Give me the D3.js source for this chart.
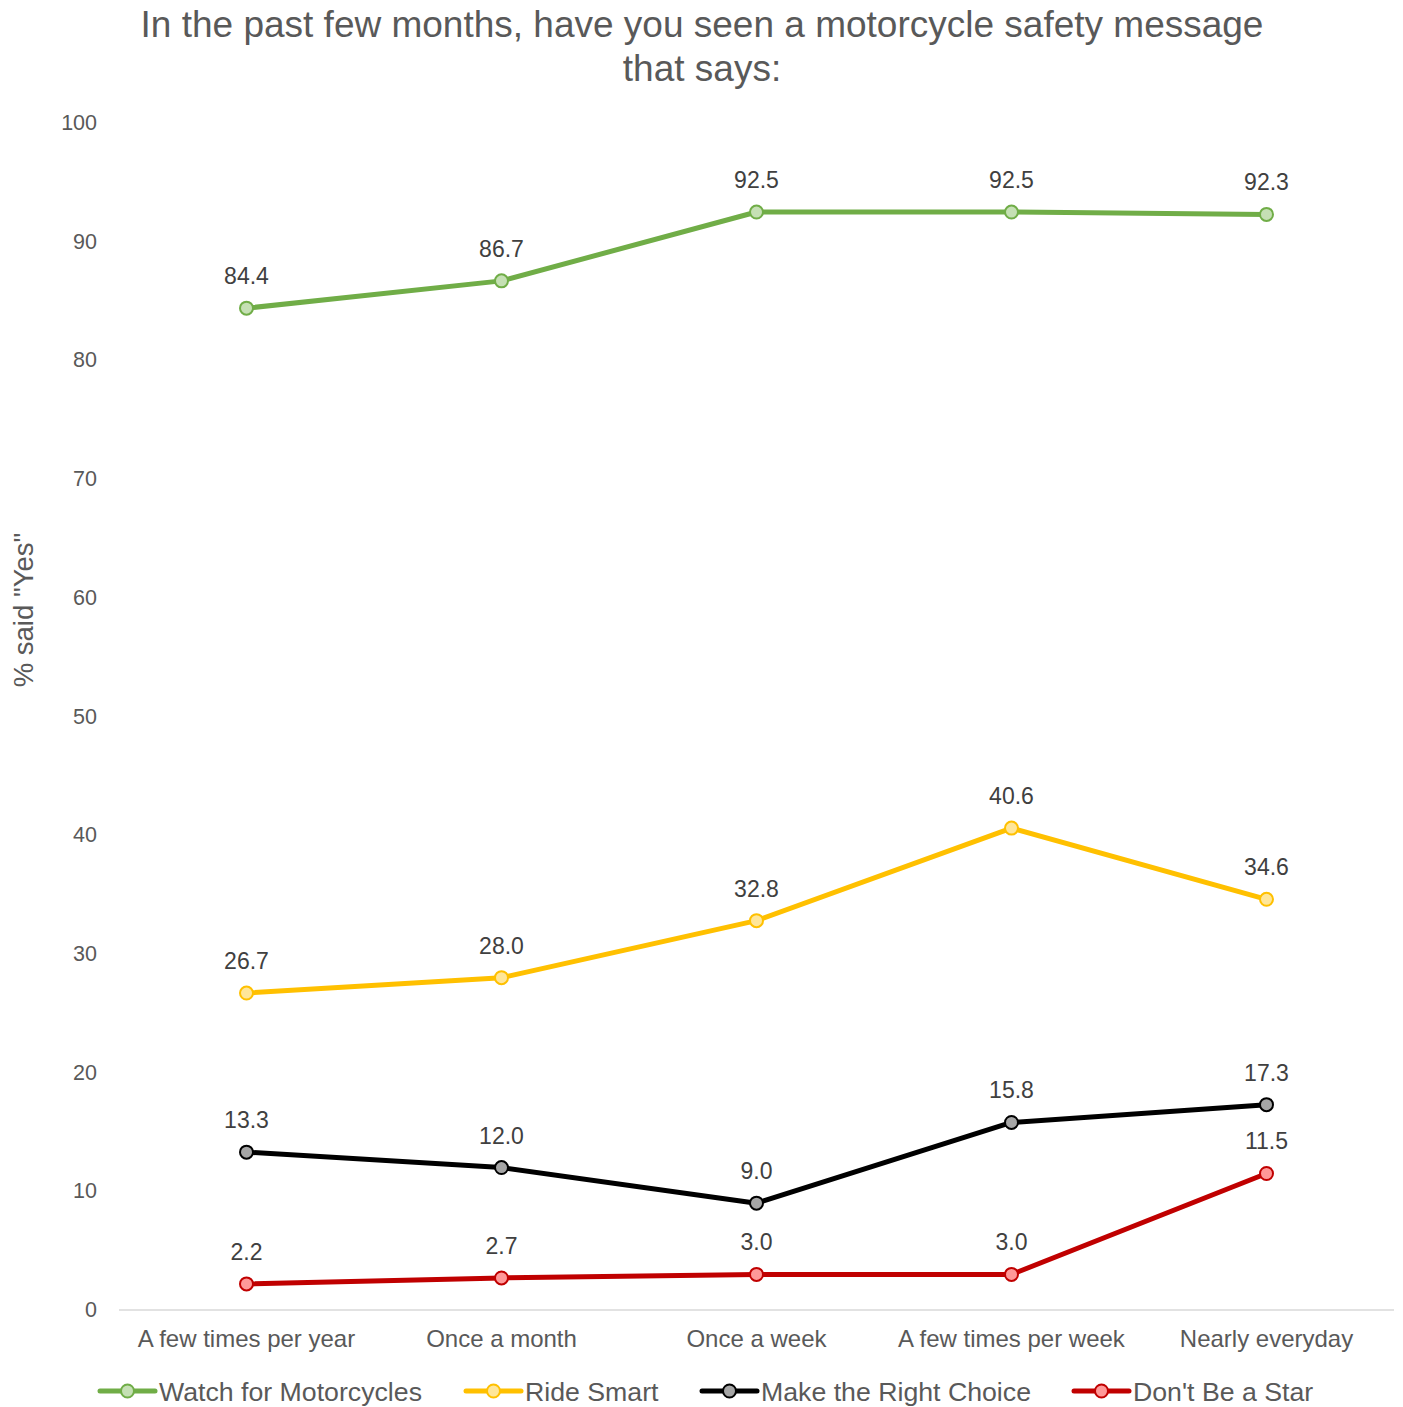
<!DOCTYPE html>
<html><head><meta charset="utf-8">
<script src="https://cdn.jsdelivr.net/npm/d3@7"></script>
<style>body{margin:0;background:#fff;} svg{display:block;font-family:"Liberation Sans",Arial,sans-serif;}</style>
</head><body>
<svg id="c" width="1403" height="1407"></svg>
<script>
const categories = ["A few times per year","Once a month","Once a week","A few times per week","Nearly everyday"];
const seriesNames = ["Watch for Motorcycles","Ride Smart","Make the Right Choice","Don't Be a Star"];
const watchVals = [84.4, 86.7, 92.5, 92.5, 92.3];
const rideVals = [26.7, 28.0, 32.8, 40.6, 34.6];
const choiceVals = [13.3, 12.0, 9.0, 15.8, 17.3];
const starVals = [2.2, 2.7, 3.0, 3.0, 11.5];
const yTicks = [0,10,20,30,40,50,60,70,80,90,100];

const series = [
  {name: seriesNames[0], values: watchVals, stroke: "#70AD47", fill: "#C5E0B4"},
  {name: seriesNames[1], values: rideVals, stroke: "#FFC000", fill: "#FFE699"},
  {name: seriesNames[2], values: choiceVals, stroke: "#000000", fill: "#A6A6A6"},
  {name: seriesNames[3], values: starVals, stroke: "#C00000", fill: "#FF9999"}
];

const svg = d3.select("#c");
const x = d3.scaleBand().domain(categories).range([119, 1394]);
const y = d3.scaleLinear().domain([0,100]).range([1310, 123]);

// title
svg.append("text").attr("x", 702).attr("y", 37).attr("text-anchor","middle")
  .attr("font-size", 37).attr("fill","#595959").text("In the past few months, have you seen a motorcycle safety message");
svg.append("text").attr("x", 702).attr("y", 81).attr("text-anchor","middle")
  .attr("font-size", 37).attr("fill","#595959").text("that says:");

// y ticks
svg.append("g").selectAll("text").data(yTicks).join("text")
  .attr("x", 97).attr("y", d => y(d) + 7).attr("text-anchor","end")
  .attr("font-size", 21.5).attr("fill","#595959").text(d => d);

// y label
svg.append("text").attr("transform","translate(33,610) rotate(-90)").attr("text-anchor","middle")
  .attr("font-size", 27.5).attr("fill","#595959").text('% said "Yes"');

// x axis line
svg.append("line").attr("x1",119).attr("x2",1394).attr("y1",y(0)).attr("y2",y(0))
  .attr("stroke","#D9D9D9").attr("stroke-width",1.5);

// x labels
svg.append("g").selectAll("text").data(categories).join("text")
  .attr("x", d => x(d) + x.bandwidth()/2).attr("y", 1347).attr("text-anchor","middle")
  .attr("font-size", 24).attr("fill","#595959").text(d => d);

const line = d3.line().x((d,i) => x(categories[i]) + x.bandwidth()/2).y(d => y(d));

series.forEach(s => {
  const g = svg.append("g");
  g.append("path").attr("d", line(s.values)).attr("fill","none")
    .attr("stroke", s.stroke).attr("stroke-width", 5).attr("stroke-linejoin","round");
  g.selectAll("circle").data(s.values).join("circle")
    .attr("cx", (d,i) => x(categories[i]) + x.bandwidth()/2).attr("cy", d => y(d))
    .attr("r", 6.5).attr("fill", s.fill).attr("stroke", s.stroke).attr("stroke-width", 2);
  g.selectAll("text").data(s.values).join("text")
    .attr("x", (d,i) => x(categories[i]) + x.bandwidth()/2).attr("y", d => y(d) - 24)
    .attr("text-anchor","middle").attr("font-size", 23).attr("fill","#404040")
    .text(d => d.toFixed(1));
});

// legend
const legendX = [100, 466, 702, 1074];
const lg = svg.append("g");
series.forEach((s, i) => {
  const lx = legendX[i], ly = 1391;
  lg.append("line").attr("x1", lx).attr("x2", lx + 55).attr("y1", ly).attr("y2", ly)
    .attr("stroke", s.stroke).attr("stroke-width", 5).attr("stroke-linecap","round");
  lg.append("circle").attr("cx", lx + 27.5).attr("cy", ly).attr("r", 6.5)
    .attr("fill", s.fill).attr("stroke", s.stroke).attr("stroke-width", 2);
  lg.append("text").attr("x", lx + 59).attr("y", ly + 9.5).attr("font-size", 26.7)
    .attr("fill","#595959").text(s.name);
});
</script>
</body></html>
